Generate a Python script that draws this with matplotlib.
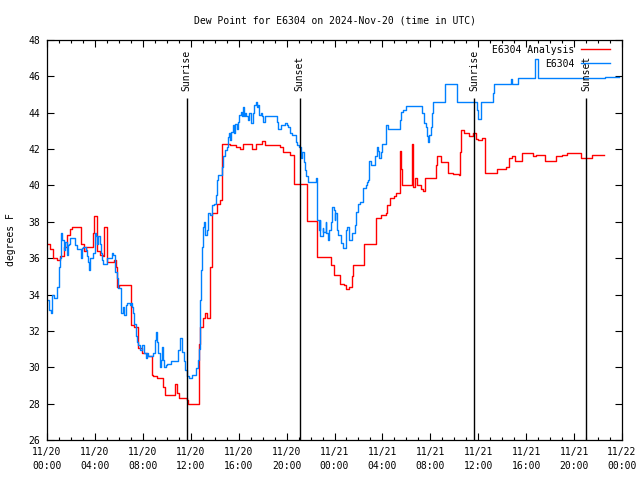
import matplotlib
matplotlib.use('Agg')
import matplotlib.pyplot as plt
from matplotlib.ticker import MultipleLocator

# hours since 2024-11-20 00:00 UTC, dew point in degrees F
analysis_hours = [0.0, 0.25, 0.5, 0.83, 1.08, 1.42, 1.67, 1.92, 2.08, 2.83, 3.08, 3.25,
                  3.83, 3.92, 4.17, 4.42, 4.67, 4.75, 5.0, 5.58, 5.75, 5.83, 6.0, 7.0,
                  7.25, 7.58, 7.92, 8.33, 8.75, 8.83, 9.17, 9.67, 9.83, 10.5, 10.67, 10.83,
                  11.0, 11.67, 11.75, 12.67, 12.75, 13.0, 13.17, 13.33, 13.58, 13.75, 14.17, 14.42,
                  14.58, 15.25, 15.75, 16.08, 16.33, 17.08, 17.42, 17.92, 18.17, 19.42, 19.67, 20.25,
                  20.58, 21.5, 21.67, 22.5, 22.58, 23.67, 23.92, 24.5, 24.83, 25.0, 25.17, 25.42,
                  25.58, 26.5, 27.5, 27.92, 28.33, 28.42, 28.67, 29.0, 29.17, 29.5, 29.58, 29.67,
                  30.42, 30.5, 30.58, 30.75, 30.92, 31.25, 31.42, 31.58, 32.5, 32.58, 32.92, 33.5,
                  33.92, 34.42, 34.5, 34.58, 34.83, 35.25, 35.58, 35.83, 36.0, 36.33, 36.58, 37.5,
                  37.58, 38.33, 38.58, 38.83, 39.08, 39.67, 40.58, 40.83, 41.58, 42.5, 43.0, 43.42,
                  44.58, 45.5, 46.5]
analysis_vals = [36.8, 36.5, 36.0, 35.9, 36.1, 36.6, 37.3, 37.6, 37.7, 36.8, 36.4, 36.6,
                 37.4, 38.3, 36.4, 36.2, 36.1, 37.7, 35.8, 35.9, 35.5, 34.4, 34.5, 32.3,
                 32.2, 31.05, 30.8, 30.6, 29.6, 29.5, 29.4, 28.9, 28.5, 28.5, 29.1, 28.6,
                 28.3, 28.2, 28.0, 31.3, 32.2, 32.7, 33.0, 32.7, 35.5, 38.5, 39.0, 39.2,
                 42.3, 42.2, 42.1, 42.0, 42.3, 42.0, 42.3, 42.45, 42.2, 42.1, 41.85, 41.7,
                 40.1, 40.1, 38.05, 37.9, 36.07, 35.6, 35.1, 34.6, 34.5, 34.3, 34.4, 35.0,
                 35.6, 36.8, 38.2, 38.4, 38.5, 38.9, 39.3, 39.4, 39.6, 41.9, 40.9, 40.0,
                 40.0, 42.3, 39.9, 40.4, 40.0, 39.8, 39.7, 40.4, 41.1, 41.6, 41.3, 40.7,
                 40.65, 40.6, 41.85, 43.05, 42.9, 42.7, 42.9, 42.55, 42.5, 42.6, 40.7, 40.7,
                 40.9, 41.0, 41.5, 41.6, 41.35, 41.8, 41.6, 41.7, 41.35, 41.6, 41.7, 41.8,
                 41.5, 41.7, 41.7]

obs_hours = [0.0, 0.17, 0.33, 0.42, 0.58, 0.83, 1.0, 1.08, 1.17, 1.25, 1.42, 1.5,
             1.67, 1.75, 1.83, 1.92, 2.33, 2.5, 2.83, 2.92, 3.0, 3.25, 3.33, 3.42,
             3.5, 3.58, 3.83, 4.0, 4.08, 4.17, 4.25, 4.42, 4.5, 4.58, 4.67, 5.0,
             5.42, 5.5, 5.67, 5.83, 5.92, 6.17, 6.33, 6.42, 6.58, 6.67, 6.92, 7.0,
             7.08, 7.17, 7.25, 7.42, 7.5, 7.58, 7.75, 7.92, 8.08, 8.25, 8.33, 8.42,
             8.83, 9.0, 9.08, 9.17, 9.25, 9.42, 9.5, 9.58, 9.67, 9.75, 9.92, 10.0,
             10.33, 10.92, 11.08, 11.25, 11.42, 11.5, 11.67, 11.83, 12.08, 12.42, 12.58, 12.67,
             12.75, 12.83, 12.92, 13.0, 13.08, 13.17, 13.33, 13.42, 13.58, 13.75, 13.92, 14.08,
             14.17, 14.25, 14.58, 14.67, 14.83, 15.0, 15.08, 15.17, 15.25, 15.33, 15.5, 15.58,
             15.67, 15.83, 15.92, 16.0, 16.17, 16.25, 16.33, 16.42, 16.5, 16.58, 16.75, 16.83,
             17.0, 17.17, 17.25, 17.42, 17.5, 17.58, 17.67, 17.83, 17.92, 18.0, 18.17, 19.17,
             19.25, 19.5, 19.83, 20.0, 20.08, 20.25, 20.42, 20.75, 20.83, 21.0, 21.17, 21.25,
             21.42, 21.5, 21.58, 21.75, 22.33, 22.42, 22.5, 22.58, 22.67, 22.75, 22.83, 23.0,
             23.08, 23.25, 23.33, 23.42, 23.5, 23.67, 23.75, 23.83, 23.92, 24.0, 24.08, 24.25,
             24.33, 24.58, 24.75, 24.92, 25.0, 25.08, 25.25, 25.5, 25.67, 25.83, 25.92, 26.17,
             26.42, 26.67, 26.75, 26.83, 26.92, 27.08, 27.42, 27.58, 27.67, 27.75, 27.92, 28.0,
             28.33, 28.5, 29.42, 29.5, 29.58, 29.75, 30.0, 31.25, 31.33, 31.5, 31.67, 31.75,
             31.83, 31.92, 32.08, 32.17, 32.25, 33.25, 34.25, 35.92, 36.0, 36.25, 37.25, 37.33,
             38.75, 38.83, 39.33, 40.75, 41.0, 46.58, 47.75]
obs_vals = [33.7, 33.15, 33.0, 34.0, 33.8, 34.4, 35.5, 36.0, 37.4, 37.0, 36.45, 36.9,
            36.2, 36.7, 36.8, 37.1, 36.7, 36.5, 36.0, 36.55, 36.6, 36.45, 36.1, 35.8,
            35.35, 36.0, 36.3, 37.4, 37.2, 36.8, 37.2, 36.8, 36.3, 35.9, 35.7, 36.0,
            36.3, 36.2, 35.25, 34.9, 34.35, 33.0, 33.3, 32.9, 33.4, 33.55, 33.4, 33.55,
            33.3, 33.0, 32.4, 31.7, 31.4, 31.2, 30.95, 31.2, 30.8, 30.5, 30.8, 30.6,
            30.8, 31.5, 31.95, 31.4, 30.8, 30.0, 30.4, 31.1, 30.4, 30.0, 30.1, 30.2,
            30.35, 30.95, 31.6, 30.85, 30.35, 29.85, 29.5, 29.4, 29.6, 29.95, 30.4, 31.0,
            33.7, 35.35, 36.6, 37.7, 38.0, 37.3, 37.55, 38.5, 38.4, 38.9, 39.0, 39.5,
            40.3, 40.6, 41.0, 41.6, 41.95, 42.1, 42.65, 42.9, 42.5, 42.95, 43.3, 42.9,
            43.4, 43.1, 43.5, 43.9, 44.05, 43.8, 44.3, 43.8, 44.0, 43.8, 43.6, 44.0,
            43.45, 44.0, 44.4, 44.6, 44.3, 44.4, 43.9, 44.0, 43.8, 43.5, 43.8, 43.5,
            43.1, 43.3, 43.45, 43.3, 43.2, 42.9, 42.8, 42.4, 42.2, 42.1, 41.5, 41.85,
            41.3, 40.85, 40.5, 40.2, 40.2, 40.4, 40.2, 38.1, 37.55, 38.1, 37.2, 37.65,
            37.45, 38.0, 37.4, 37.0, 37.55, 38.0, 38.4, 38.8, 38.65, 38.1, 38.5, 37.55,
            37.3, 36.85, 36.55, 36.9, 37.55, 37.7, 37.0, 37.4, 37.8, 38.55, 39.0, 39.1,
            39.85, 40.0, 40.2, 40.3, 41.35, 41.1, 41.6, 42.1, 41.9, 41.5, 41.85, 42.3,
            43.3, 43.1, 43.1, 43.6, 44.05, 44.15, 44.35, 44.35, 44.0, 43.45, 43.2, 42.7,
            42.4, 42.8, 43.2, 44.0, 44.6, 45.6, 44.6, 44.15, 43.65, 44.6, 45.1, 45.6,
            45.85, 45.6, 45.9, 46.95, 45.9, 45.95, 45.95]

sun_hours = [11.67, 21.08, 35.67, 45.0]
sun_labels = ['Sunrise', 'Sunset', 'Sunrise', 'Sunset']

tick_hours = list(range(0, 49, 4))
tick_labels = ['11/20\n00:00', '11/20\n04:00', '11/20\n08:00', '11/20\n12:00',
               '11/20\n16:00', '11/20\n20:00', '11/21\n00:00', '11/21\n04:00',
               '11/21\n08:00', '11/21\n12:00', '11/21\n16:00', '11/21\n20:00',
               '11/22\n00:00']

plt.rcParams['font.family'] = 'DejaVu Sans Mono'
plt.rcParams['font.size'] = 7

fig = plt.figure(figsize=(6.4, 4.8), dpi=100)
ax = fig.add_axes([47/640, 40/480, 575/640, 400/480])

ax.plot(analysis_hours, analysis_vals, color='#ff0000', lw=1.0,
        drawstyle='steps-post', label='E6304 Analysis')
ax.plot(obs_hours, obs_vals, color='#0080ff', lw=1.0,
        drawstyle='steps-post', label='E6304')

#sunrise / sunset markers
for h, lab in zip(sun_hours, sun_labels):
    ax.vlines(h, 26, 44.8, color='black', lw=1.0)
    ax.text(h, 45.2, lab, rotation=90, ha='center', va='bottom', fontsize=7)

ax.set_xlim(0, 48)
ax.set_ylim(26, 48)
ax.set_xticks(tick_hours)
ax.set_xticklabels(tick_labels, linespacing=1.5)
ax.xaxis.set_minor_locator(MultipleLocator(1))
ax.set_yticks(range(26, 49, 2))
ax.tick_params(which='both', direction='in', top=True, right=True, width=0.8)
ax.tick_params(which='major', length=5, pad=5)
ax.tick_params(which='minor', length=2.5)
for s in ax.spines.values():
    s.set_linewidth(0.9)

ax.set_title('Dew Point for E6304 on 2024-Nov-20 (time in UTC)', fontsize=7, pad=12)
ax.set_ylabel('degrees F', fontsize=7, labelpad=9)

ax.legend(loc='upper right', bbox_to_anchor=(0.987, 1.0), frameon=False,
          markerfirst=False, handlelength=2.9, handletextpad=0.7,
          borderpad=0, labelspacing=0.4, fontsize=7)

fig.savefig('out.png', dpi=100)
